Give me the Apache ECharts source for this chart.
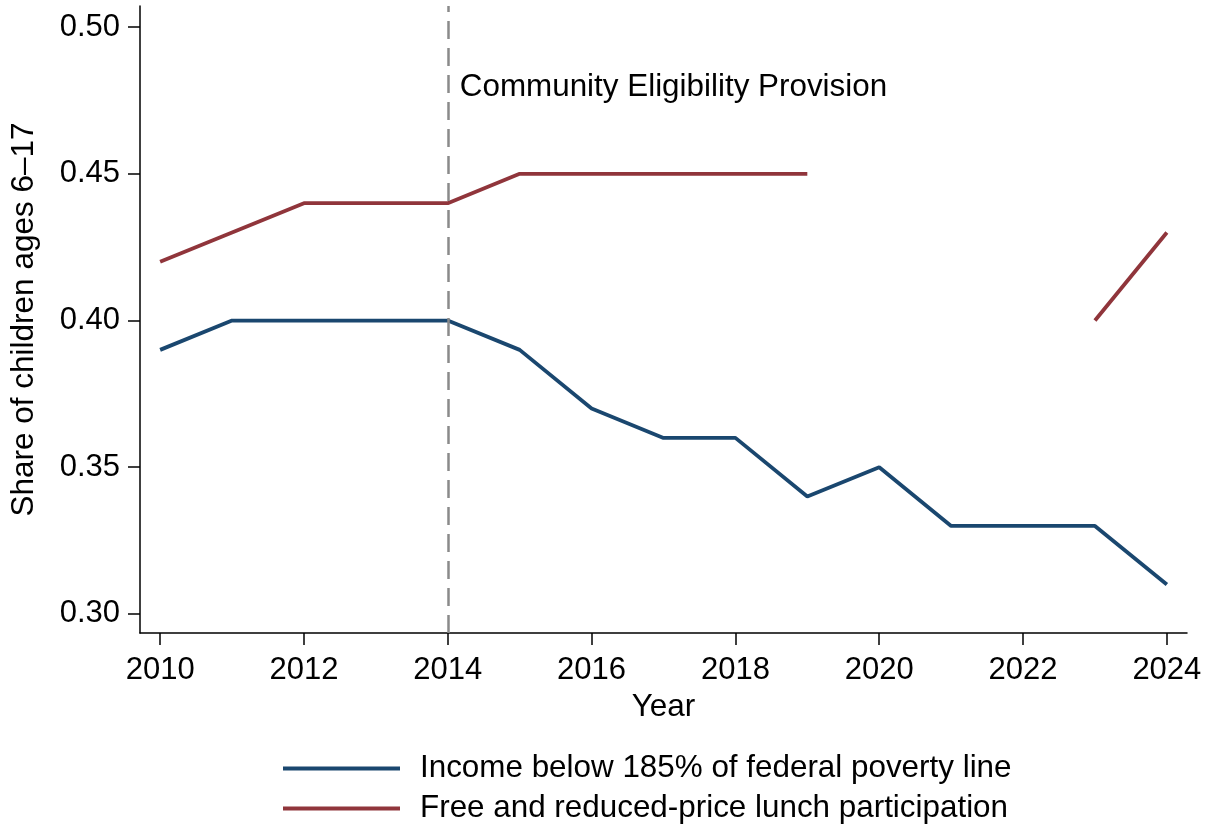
<!DOCTYPE html>
<html>
<head>
<meta charset="utf-8">
<script src="https://cdn.jsdelivr.net/npm/echarts@6/dist/echarts.min.js"></script>
<style>
  html, body { margin: 0; padding: 0; background: #fff; }
  #chart { width: 1215px; height: 829px; }
</style>
</head>
<body>
<div id="chart"></div>
<script>
// School years and the two shares of children ages 6–17
const years = [2010, 2011, 2012, 2013, 2014, 2015, 2016, 2017, 2018, 2019, 2020, 2021, 2022, 2023, 2024];
const incomeBelow185 = [0.39, 0.40, 0.40, 0.40, 0.40, 0.39, 0.37, 0.36, 0.36, 0.34, 0.35, 0.33, 0.33, 0.33, 0.31];
const lunchParticipation = [0.42, 0.43, 0.44, 0.44, 0.44, 0.45, 0.45, 0.45, 0.45, 0.45, null, null, null, 0.40, 0.43];

const xTickValues = [2010, 2012, 2014, 2016, 2018, 2020, 2022, 2024];
const yTickValues = [0.30, 0.35, 0.40, 0.45, 0.50];

const cepYear = 2014;
const cepLabel = 'Community Eligibility Provision';
const cepLabelY = 0.4796;

const seriesNames = ['Income below 185% of federal poverty line', 'Free and reduced-price lunch participation'];
const seriesColors = ['#1a476f', '#90353b'];

const FONT = 'Liberation Sans, Arial, Helvetica, sans-serif';

function pairs(values) {
  return years.map((y, i) => [y, values[i] === null ? '-' : values[i]]);
}

const chart = echarts.init(document.getElementById('chart'), null, { renderer: 'canvas' });

chart.setOption({
  animation: false,
  backgroundColor: '#ffffff',
  textStyle: { fontFamily: FONT },
  grid: { left: 137, right: 28, top: 6, bottom: 196, containLabel: false },
  xAxis: {
    type: 'value',
    min: 2009.72,
    max: 2024.28,
    name: 'Year',
    nameLocation: 'middle',
    nameGap: 54,
    nameTextStyle: { fontSize: 31.5, color: '#000', fontFamily: FONT },
    axisLine: { show: true, lineStyle: { color: '#000', width: 1.5 } },
    axisTick: { show: true, length: 12, lineStyle: { color: '#000', width: 1.5 }, customValues: xTickValues },
    axisLabel: { fontSize: 31, color: '#000', margin: 22, fontFamily: FONT, customValues: xTickValues,
      formatter: v => String(v) },
    splitLine: { show: false }
  },
  yAxis: {
    type: 'value',
    min: 0.2935,
    max: 0.5072,
    name: 'Share of children ages 6–17',
    nameLocation: 'middle',
    nameGap: 100,
    nameRotate: 90,
    nameTextStyle: { fontSize: 31.5, color: '#000', fontFamily: FONT },
    axisLine: { show: true, lineStyle: { color: '#000', width: 1.5 } },
    axisTick: { show: true, length: 12, lineStyle: { color: '#000', width: 1.5 }, customValues: yTickValues },
    axisLabel: { fontSize: 31, color: '#000', margin: 20, fontFamily: FONT, customValues: yTickValues,
      formatter: v => v.toFixed(2) },
    splitLine: { show: false }
  },
  legend: {
    orient: 'vertical',
    left: 283,
    top: 753,
    padding: 0,
    itemGap: 9,
    itemWidth: 117,
    itemHeight: 4,
    icon: 'rect',
    textStyle: { fontSize: 31.4, color: '#000', fontFamily: FONT, lineHeight: 31, padding: [0, 0, 0, 15] },
    data: seriesNames
  },
  series: [
    {
      name: seriesNames[0],
      type: 'line',
      data: pairs(incomeBelow185),
      symbol: 'none',
      color: seriesColors[0],
      lineStyle: { width: 3.8, color: seriesColors[0] },
      z: 3,
      markLine: {
        silent: true,
        symbol: 'none',
        label: { show: false },
        lineStyle: { color: '#8a8a8a', width: 2.5, type: [18, 9] },
        data: [{ xAxis: cepYear }]
      },
      markPoint: {
        silent: true,
        symbol: 'circle',
        symbolSize: 0,
        label: {
          show: true,
          position: 'right',
          distance: 12,
          formatter: cepLabel,
          fontSize: 31.4,
          color: '#000',
          fontFamily: FONT
        },
        data: [{ coord: [cepYear, cepLabelY] }]
      }
    },
    {
      name: seriesNames[1],
      type: 'line',
      data: pairs(lunchParticipation),
      symbol: 'none',
      connectNulls: false,
      color: seriesColors[1],
      lineStyle: { width: 3.8, color: seriesColors[1] },
      z: 3
    }
  ]
});
</script>
</body>
</html>
